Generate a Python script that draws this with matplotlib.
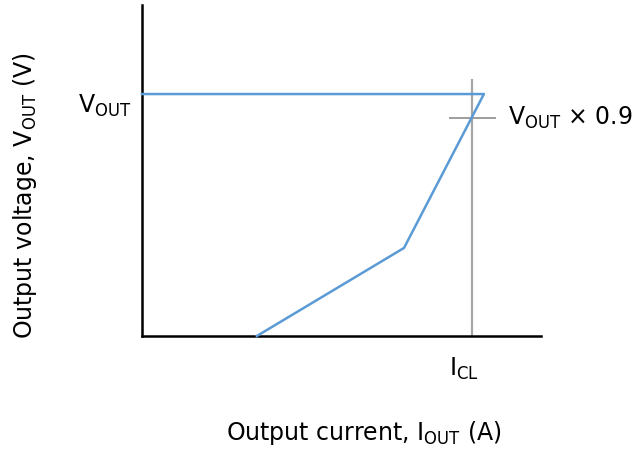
import matplotlib
matplotlib.use("Agg")
import matplotlib.pyplot as plt

# Characteristic curve (normalised: I / I_CL, V / V_OUT)
curve_x = [0.0, 1.036, 0.794, 0.348]
curve_y = [1.0, 1.0, 0.364, 0.0]

icl_x = [1.0, 1.0]
icl_y = [0.0, 1.062]
v09_x = [0.930, 1.073]
v09_y = [0.9, 0.9]

plt.rcParams["mathtext.fontset"] = "dejavusans"
fig = plt.figure(figsize=(6.38, 4.5), dpi=100)
ax = fig.add_axes([142/638, 1-336/450, 399/638, 331/450])
ax.set_xlim(0, 1.209)
ax.set_ylim(0, 1.368)

ax.plot(icl_x, icl_y, color="#a6a6a6", lw=1.6, solid_capstyle="butt", zorder=2)
ax.plot(v09_x, v09_y, color="#8c8c8c", lw=1.2, solid_capstyle="butt", zorder=2)
ax.plot(curve_x, curve_y, color="#5b9bd5", lw=1.8, zorder=3, clip_on=False)

for s in ["top", "right"]:
    ax.spines[s].set_visible(False)
for s in ["left", "bottom"]:
    ax.spines[s].set_linewidth(1.8)
    ax.spines[s].set_color("black")
ax.set_xticks([])
ax.set_yticks([])

fs = 17
ax.text(-0.033, 0.95, r"V$_{\mathregular{OUT}}$", ha="right", va="center", fontsize=fs)
ax.text(1.109, 0.9, r"V$_{\mathregular{OUT}}$ × 0.9", ha="left", va="center", fontsize=fs)
ax.text(0.975, -0.136, r"I$_{\mathregular{CL}}$", ha="center", va="center", fontsize=fs)

fig.text(364/638, 1-433/450, r"Output current, I$_{\mathregular{OUT}}$ (A)", ha="center", va="center", fontsize=fs)
fig.text(25/638, 1-196/450, r"Output voltage, V$_{\mathregular{OUT}}$ (V)", ha="center", va="center", rotation=90, fontsize=fs)

fig.savefig("out.png", dpi=100)
